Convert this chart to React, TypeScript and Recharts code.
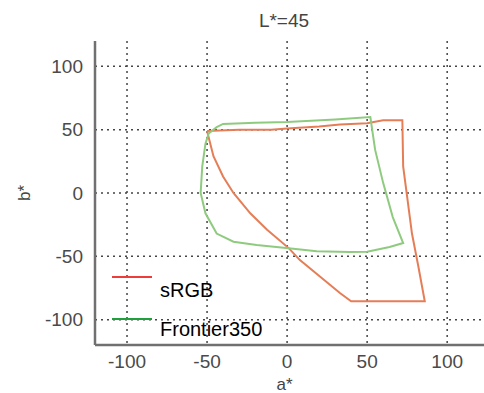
import React from 'react'
import { ScatterChart, Scatter, XAxis, YAxis, CartesianGrid, Legend, Label } from 'recharts'

// gamut outlines at L*=45 as (a*, b*) pairs, closed
const srgb: [number, number][] = [
   [-50, 49], [-30, 50], [-10, 50], [0, 51], [20, 52.5], [33, 54], [50, 55], [60, 57.5], [72, 57.5],
   [72.5, 21], [75, -3], [78, -32], [82, -58], [86, -85.5], [40, -85.5], [33, -79], [20.5, -66],
   [8, -53], [1, -43.5], [-12.5, -29], [-23, -16], [-33.5, 0], [-40, 13], [-46, 29], [-50, 49],
]

const frontier350: [number, number][] = [
   [-49, 47], [-44, 52], [-40, 54.5], [-20, 55.5], [0, 56], [30, 58], [52, 60], [55, 34], [60, 8],
   [66, -19], [72.5, -39.5], [64, -42.6], [50, -46.3], [39, -46.6], [18.5, -46], [1, -43.7],
   [-19, -41], [-33.5, -38.5], [-44, -32], [-51, -16], [-54, 0], [-53, 21], [-51, 39], [-49, 47],
]

const ticks = [-100, -50, 0, 50, 100]
const xDomain: [number, number] = [-120, 123]
const yDomain: [number, number] = [-120, 120]
const title = 'L*=45'
const names = ['sRGB', 'Frontier350']

const toRows = (pts: [number, number][]) => pts.map(([a, b]) => ({ a, b }))

const lineColors = ['#e57e57', '#8fcb7f']
const legendColors = ['#ee3b3b', '#1fa03c']

const NoDot = () => <g />

const LegendBox = () => (
   <svg width={200} height={80} style={{ display: 'block' }}>
      <line x1={2} y1={12} x2={42} y2={12} stroke={legendColors[0]} strokeWidth={2} />
      <text x={50} y={32} fontSize={20} fill="#000">{names[0]}</text>
      <line x1={2} y1={54} x2={42} y2={54} stroke={legendColors[1]} strokeWidth={2} />
      <text x={50} y={71} fontSize={20} fill="#000">{names[1]}</text>
   </svg>
)

const tickStyle = { fill: '#4a4a4a', fontSize: 19 }

// grid only at the tick values (no lines on the plot edges)
const gridX = ({ offset }: any) =>
   ticks.map((t) => offset.left + ((t - xDomain[0]) / (xDomain[1] - xDomain[0])) * offset.width)
const gridY = ({ offset }: any) =>
   ticks.map((t) => offset.top + ((yDomain[1] - t) / (yDomain[1] - yDomain[0])) * offset.height)

export default function App() {
   return (
      <div style={{ position: 'absolute', left: 0, top: 0, width: 484, height: 393, background: '#fff', fontFamily: '"Liberation Sans", Arial, sans-serif' }}>
         <div style={{ position: 'absolute', left: 234, top: 11, width: 100, textAlign: 'center', fontSize: 19, lineHeight: '20px', color: '#444', zIndex: 2 }}>
            {title}
         </div>
         <ScatterChart width={484} height={393} margin={{ top: 41, right: 0, bottom: 18, left: 0 }}>
            <CartesianGrid stroke="#444" strokeDasharray="2 4" strokeWidth={1.5}
               verticalCoordinatesGenerator={gridX} horizontalCoordinatesGenerator={gridY} />
            <XAxis type="number" dataKey="a" domain={xDomain} ticks={ticks} height={30}
               axisLine={{ stroke: '#707070', strokeWidth: 2.5 }} tickLine={false} tickMargin={4} tick={tickStyle} allowDataOverflow>
               <Label value="a*" position="bottom" offset={3} dx={-5} fill="#444" fontSize={17} />
            </XAxis>
            <YAxis type="number" dataKey="b" domain={yDomain} ticks={ticks} width={95}
               axisLine={{ stroke: '#707070', strokeWidth: 2.5 }} tickLine={false} tickMargin={6} tick={tickStyle} allowDataOverflow>
               <Label value="b*" position="insideLeft" offset={24} angle={-90} fill="#444" fontSize={17} style={{ textAnchor: 'middle' }} />
            </YAxis>
            <Legend layout="vertical" align="center" verticalAlign="middle" content={() => <LegendBox />}
               wrapperStyle={{ left: 110, top: 265, width: 200, height: 80 }} />
            <Scatter name={names[0]} data={toRows(srgb)} fill={lineColors[0]} line={{ stroke: lineColors[0], strokeWidth: 2 }}
               shape={NoDot} isAnimationActive={false} />
            <Scatter name={names[1]} data={toRows(frontier350)} fill={lineColors[1]} line={{ stroke: lineColors[1], strokeWidth: 2 }}
               shape={NoDot} isAnimationActive={false} />
         </ScatterChart>
      </div>
   )
}
